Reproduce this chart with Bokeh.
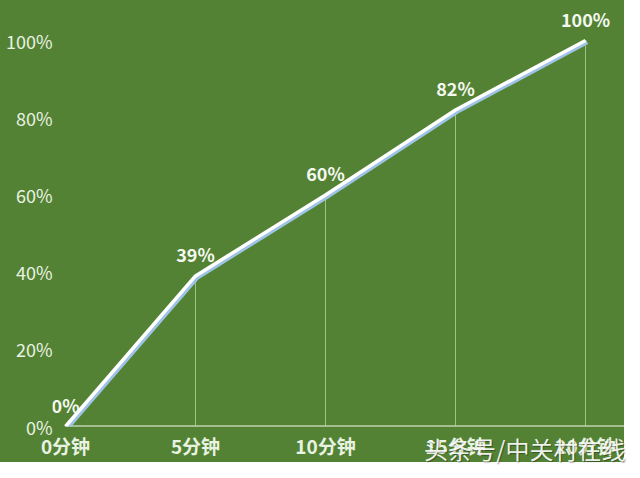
from bokeh.plotting import figure
from bokeh.models import FixedTicker, Div
from bokeh.layouts import column
from bokeh.core.properties import value
from bokeh.embed import file_html
from bokeh.resources import INLINE

minutes = [0, 5, 10, 15, 20]
x_labels = ["0分钟", "5分钟", "10分钟", "15分钟", "20分钟"]
percent = [0, 39, 60, 82, 100]
y_ticks = [0, 20, 40, 60, 80, 100]
watermark = "头条号/中关村在线"

BG = "#548235"
TXT = "#E9F3E2"

W, H = 624, 462
left, right, top, bottom = 52, 0, 0, 36
origin_x = 65            # pixel position of x = 0
end_x = 585              # pixel position of x = 20
px_x = (end_x - origin_x) / 20.0
zero_y = H - bottom      # pixel position of y = 0
full_y = 40              # pixel position of y = 100
px_y = (zero_y - full_y) / 100.0
x_start = -(origin_x - left) / px_x
x_end = (W - origin_x) / px_x
y_end = (zero_y - top) / px_y

p = figure(width=W, height=H, output_backend="svg", toolbar_location=None,
           x_range=(x_start, x_end), y_range=(0, y_end),
           min_border_left=left, min_border_right=right,
           min_border_top=top, min_border_bottom=bottom,
           background_fill_color=None, border_fill_color=None,
           styles={"background-color": BG})
p.outline_line_color = None
p.xgrid.visible = False
p.ygrid.visible = False

for ax in (p.xaxis[0], p.yaxis[0]):
    ax.axis_line_color = None
    ax.major_tick_line_color = None
    ax.minor_tick_line_color = None
    ax.major_tick_out = 0
    ax.minor_tick_out = 0
    ax.major_tick_in = 0
    ax.minor_tick_in = 0
    ax.major_label_text_color = TXT
    ax.major_label_text_font = "Noto Sans CJK SC"

p.xaxis.ticker = FixedTicker(ticks=minutes)
p.xaxis.major_label_overrides = {m: l for m, l in zip(minutes, x_labels)}
p.xaxis.major_label_text_font_style = "bold"
p.xaxis.major_label_text_font_size = "19px"
p.xaxis.major_label_standoff = 5

p.yaxis.ticker = FixedTicker(ticks=y_ticks)
p.yaxis.major_label_overrides = {t: f"{t}%" for t in y_ticks}
p.yaxis.major_label_text_font_size = "18px"
p.yaxis.major_label_standoff = 0

# baseline (x axis line) starting at x = 0
p.segment(x0=[minutes[0]], y0=[0], x1=[x_end], y1=[0],
          line_color="#F4F9F0", line_width=2)

# drop lines
p.segment(x0=minutes[1:], y0=[0] * 4, x1=minutes[1:], y1=percent[1:],
          line_color="#B5D99C", line_width=1, line_alpha=0.75)

# shadowed line
dx = 1.6 / px_x
dy = 1.6 / px_y
p.line([m + dx for m in minutes], [v - dy for v in percent],
       line_color="#9DC3E6", line_width=4.5, line_join="round")
p.line(minutes, percent, line_color="#FFFFFF", line_width=3.5, line_join="round")

p.text(x=minutes, y=percent, text=[f"{v}%" for v in percent],
       text_font=value("Noto Sans CJK SC"), text_font_style="bold",
       text_font_size="18px", text_color="#F4F9F0",
       text_align="center", text_baseline="middle", y_offset=-22)

wm = Div(text=watermark, width=200, height=26, margin=(-26, 0, 0, 424),
         styles={"font-family": "Noto Sans CJK SC", "font-size": "24px",
                 "line-height": "26px", "color": "rgba(255,255,255,0.92)",
                 "white-space": "nowrap",
                 "text-shadow": "1px 1px 1px rgba(0,0,0,0.35)"})

layout = column(p, wm, spacing=0)
open("out.html", "w").write(file_html(layout, INLINE))
